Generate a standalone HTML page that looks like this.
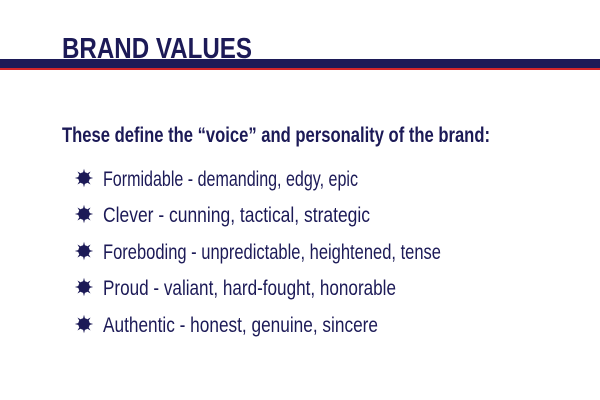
<!DOCTYPE html>
<html><head><meta charset="utf-8"><style>
html,body{margin:0;padding:0;background:#fff;width:600px;height:400px;overflow:hidden}
text{font-family:"Liberation Sans Narrow","Liberation Sans",sans-serif;fill:#1c1a57}
</style></head><body>
<svg width="600" height="400" viewBox="0 0 600 400">
<defs>
<g id="star0">
<circle cx="0" cy="0" r="5" fill="#1c1a57"/>
<path d="M0,-8 L1.6,-2 L0,0 L-1.6,-2Z M0,8 L1.6,2 L0,0 L-1.6,2Z M-8,0 L-2,1.6 L0,0 L-2,-1.6Z M8,0 L2,1.6 L0,0 L2,-1.6Z M5.7,5.7 L0.4,2.6 L0,0 L2.6,0.4Z M-5.7,-5.7 L-0.4,-2.6 L0,0 L-2.6,-0.4Z M5.7,-5.7 L2.6,-0.4 L0,0 L0.4,-2.6Z M-5.7,5.7 L-2.6,0.4 L0,0 L-0.4,2.6Z" fill="#1c1a57"/>
</g>
<g id="star"><use href="#star0" transform="scale(1.15)"/></g>
</defs>
<rect x="0" y="59" width="600" height="9" fill="#1c1a57"/>
<rect x="0" y="68" width="600" height="2" fill="#d2262a"/>
<text x="62" y="58" font-size="29" font-weight="bold" textLength="190" lengthAdjust="spacingAndGlyphs">BRAND VALUES</text>
<text x="62" y="142" font-size="21" font-weight="bold" textLength="428" lengthAdjust="spacingAndGlyphs">These define the “voice” and personality of the brand:</text>
<g><use href="#star" x="84" y="178"/><text x="103" y="186" font-size="21" textLength="255" lengthAdjust="spacingAndGlyphs">Formidable - demanding, edgy, epic</text></g>
<g><use href="#star" x="84" y="214"/><text x="103" y="222" font-size="21" textLength="267" lengthAdjust="spacingAndGlyphs">Clever - cunning, tactical, strategic</text></g>
<g><use href="#star" x="84" y="251"/><text x="103" y="259" font-size="21" textLength="338" lengthAdjust="spacingAndGlyphs">Foreboding - unpredictable, heightened, tense</text></g>
<g><use href="#star" x="84" y="287"/><text x="103" y="295" font-size="21" textLength="293" lengthAdjust="spacingAndGlyphs">Proud - valiant, hard-fought, honorable</text></g>
<g><use href="#star" x="84" y="324"/><text x="103" y="332" font-size="21" textLength="275" lengthAdjust="spacingAndGlyphs">Authentic - honest, genuine, sincere</text></g>
</svg>
</body></html>
